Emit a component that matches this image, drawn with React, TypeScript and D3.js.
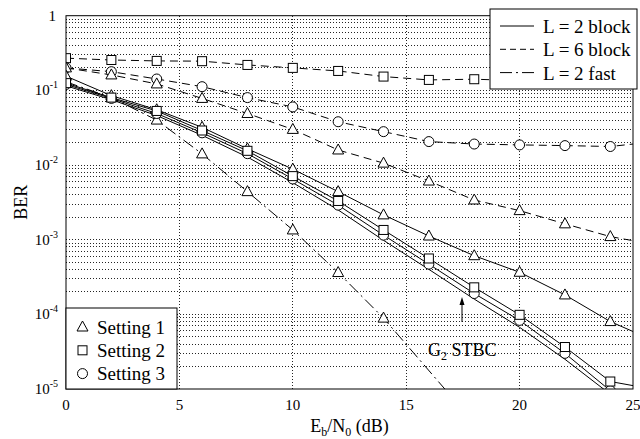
import * as d3 from "d3";

// x values (Eb/N0 in dB)
const ebn0 = [0, 2, 4, 6, 8, 10, 12, 14, 16, 18, 20, 22, 24, 25];
const ebn0Fast = [0, 2, 4, 6, 8, 10, 12, 14, 18];

// L = 2 block
const block2Set1 = [0.155, 0.085, 0.055, 0.032, 0.0165, 0.0088, 0.0044, 0.00215, 0.00112, 0.00061, 0.000366, 0.000182, 0.00008, 0.0000589];
const block2Set2 = [0.125, 0.08, 0.053, 0.029, 0.0155, 0.0071, 0.0033, 0.00135, 0.00056, 0.00023, 0.0000985, 0.0000365, 0.0000126, 0.0000111];
const block2Set3 = [0.12, 0.078, 0.049, 0.027, 0.0142, 0.0065, 0.0029, 0.00115, 0.00047, 0.00019, 0.000083, 0.00003, 0.0000095];
const g2Stbc = [0.115, 0.075, 0.046, 0.025, 0.0128, 0.0058, 0.0025, 0.00098, 0.0004, 0.00016, 0.000067, 0.000025, 0.0000085];

// L = 6 block
const block6Set1 = [0.2, 0.161, 0.122, 0.078, 0.049, 0.03, 0.0159, 0.0106, 0.0061, 0.0034, 0.00245, 0.00163, 0.0011, 0.00097];
const block6Set2 = [0.27, 0.255, 0.248, 0.246, 0.219, 0.2, 0.182, 0.153, 0.138, 0.141, 0.135, 0.133, 0.132, 0.132];
const block6Set3 = [0.2, 0.178, 0.142, 0.112, 0.08, 0.06, 0.038, 0.028, 0.0206, 0.0191, 0.0186, 0.0182, 0.0177, 0.0191];

// L = 2 fast
const fastSet1 = [0.13, 0.08, 0.04, 0.0141, 0.0044, 0.00135, 0.000363, 0.000089, 0.0000035];

const xTicks = [0, 5, 10, 15, 20, 25];
const yDecades = [0, -1, -2, -3, -4, -5];

const FONT = "'Liberation Serif', 'Times New Roman', Times, serif";
const DASHED = "8,5";
const DASHDOT = "12,4,2,4";

type Series = { xs: number[]; ys: number[]; dash: string | null; marker: string | null };

const series: Series[] = [
  { xs: ebn0, ys: block6Set2, dash: DASHED, marker: "square" },
  { xs: ebn0, ys: block6Set3, dash: DASHED, marker: "circle" },
  { xs: ebn0, ys: block6Set1, dash: DASHED, marker: "triangle" },
  { xs: ebn0Fast, ys: fastSet1, dash: DASHDOT, marker: "triangle" },
  { xs: ebn0, ys: g2Stbc, dash: null, marker: null },
  { xs: ebn0, ys: block2Set1, dash: null, marker: "triangle" },
  { xs: ebn0, ys: block2Set3, dash: null, marker: "circle" },
  { xs: ebn0, ys: block2Set2, dash: null, marker: "square" },
];

function Marker({ type, x, y }: { type: string; x: number; y: number }) {
  const st = { fill: "white", stroke: "black", strokeWidth: 1 };
  if (type === "square") return <rect x={x - 4.5} y={y - 4.5} width={9} height={9} {...st} />;
  if (type === "circle") return <circle cx={x} cy={y} r={5} {...st} />;
  return <path d={`M${x},${y - 6}L${x + 5.5},${y + 4}L${x - 5.5},${y + 4}Z`} {...st} />;
}

const App = () => {
  const W = 640, H = 439;
  const left = 66, right = 633, top = 15.7, bottom = 389;
  const x = d3.scaleLinear().domain([0, 25]).range([left, right]);
  const y = d3.scaleLog().domain([1e-5, 1]).range([bottom, top]);

  const minor: number[] = [];
  for (let k = -5; k < 0; k++) for (let m = 2; m <= 9; m++) minor.push(m * Math.pow(10, k));

  const line = (xs: number[], ys: number[]) =>
    d3.line<number>().x((_, i) => x(xs[i])).y((d) => y(d))(ys) || "";

  const gridStyle = { stroke: "#000", strokeWidth: 1, strokeDasharray: "1,2", shapeRendering: "crispEdges" as const };
  const txt = { fontFamily: FONT };

  return (
    <svg width={W} height={H} style={{ position: "absolute", left: 0, top: 0, background: "white", fontFamily: FONT }}>
      <defs>
        <clipPath id="plot">
          <rect x={left} y={top} width={right - left} height={bottom - top} />
        </clipPath>
      </defs>
      <rect width={W} height={H} fill="white" />

      {/* grid */}
      <g opacity={0.85}>
        {minor.map((v, i) => (
          <line key={"m" + i} x1={left} x2={right} y1={y(v)} y2={y(v)} {...gridStyle} />
        ))}
        {yDecades.slice(1, 5).map((k) => (
          <line key={"d" + k} x1={left} x2={right} y1={y(Math.pow(10, k))} y2={y(Math.pow(10, k))} {...gridStyle} />
        ))}
        {xTicks.slice(1, 5).map((t) => (
          <line key={"v" + t} x1={x(t)} x2={x(t)} y1={top} y2={bottom} {...gridStyle} />
        ))}
      </g>

      {/* series */}
      <g clipPath="url(#plot)">
        {series.map((s, i) => (
          <path key={"l" + i} d={line(s.xs, s.ys)} fill="none" stroke="black" strokeWidth={1}
            strokeDasharray={s.dash || undefined} />
        ))}
        {series.map((s, i) =>
          s.marker
            ? s.xs.map((xv, j) =>
                Number.isInteger(xv / 2) ? <Marker key={`p${i}-${j}`} type={s.marker as string} x={x(xv)} y={y(s.ys[j])} /> : null
              )
            : null
        )}
      </g>

      {/* frame */}
      <rect x={left} y={top} width={right - left} height={bottom - top} fill="none" stroke="black" strokeWidth={1} />

      {/* x tick labels */}
      {xTicks.map((t) => (
        <text key={"xt" + t} {...txt} x={x(t)} y={410} fontSize={15} textAnchor="middle">{t}</text>
      ))}
      {/* y tick labels */}
      {yDecades.map((k) =>
        k === 0 ? (
          <text key="y0" {...txt} x={56} y={y(1) + 5} fontSize={15} textAnchor="end">1</text>
        ) : (
          <text key={"y" + k} {...txt} x={58} y={y(Math.pow(10, k)) + 5} fontSize={15} textAnchor="end">
            10<tspan fontSize={10} dy={-7}>{"-" + Math.abs(k)}</tspan>
          </text>
        )
      )}

      {/* axis labels */}
      <text {...txt} x={(left + right) / 2} y={432} fontSize={18} textAnchor="middle">
        E<tspan fontSize={12} dy={4}>b</tspan><tspan dy={-4}>/N</tspan><tspan fontSize={12} dy={4}>0</tspan><tspan dy={-4}> (dB)</tspan>
      </text>
      <text {...txt} transform={`translate(27,${(top + bottom) / 2}) rotate(-90)`} fontSize={18} textAnchor="middle">BER</text>

      {/* G2 STBC annotation */}
      <line x1={462} x2={462} y1={322} y2={304} stroke="black" strokeWidth={1} />
      <path d="M462,297L459.5,305L464.5,305Z" fill="black" />
      <text {...txt} x={428} y={356} fontSize={18}>
        G<tspan fontSize={12} dy={4}>2</tspan><tspan dy={-4}> STBC</tspan>
      </text>

      {/* line-style legend */}
      <g>
        <rect x={490} y={9} width={147} height={80} fill="white" stroke="black" strokeWidth={1} />
        {[null, "6,4", DASHDOT].map((d, i) => (
          <line key={"ll" + i} x1={500} x2={534} y1={26 + i * 23.3} y2={26 + i * 23.3} stroke="black" strokeWidth={1}
            strokeDasharray={d || undefined} />
        ))}
        {["L = 2 block", "L = 6 block", "L = 2 fast"].map((t, i) => (
          <text key={"lt" + i} {...txt} x={543} y={33 + i * 23.3} fontSize={19}>{t}</text>
        ))}
      </g>

      {/* marker legend */}
      <g>
        <rect x={left} y={308} width={111} height={bottom - 308} fill="white" stroke="black" strokeWidth={1} />
        {["triangle", "square", "circle"].map((m, i) => (
          <Marker key={"lm" + i} type={m} x={82.5} y={327 + i * 23.3} />
        ))}
        {["Setting 1", "Setting 2", "Setting 3"].map((t, i) => (
          <text key={"lmt" + i} {...txt} x={97} y={333.5 + i * 23.3} fontSize={19}>{t}</text>
        ))}
      </g>
    </svg>
  );
};

export default App;
